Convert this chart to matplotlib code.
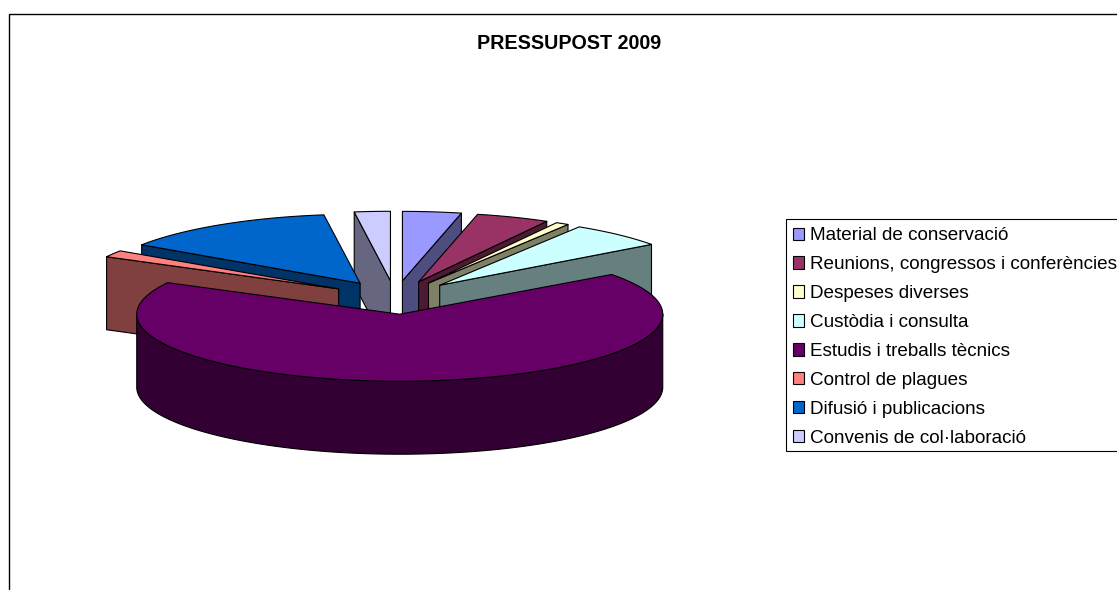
import numpy as np
import matplotlib
matplotlib.use("Agg")
import matplotlib.pyplot as plt
from matplotlib.colors import to_rgb
from matplotlib.patches import Polygon, Patch, Rectangle

plt.rcParams['font.family'] = ['Liberation Sans', 'DejaVu Sans']

TITLE = "PRESSUPOST 2009"
categories = [
    "Material de conservació",
    "Reunions, congressos i conferències",
    "Despeses diverses",
    "Custòdia i consulta",
    "Estudis i treballs tècnics",
    "Control de plagues",
    "Difusió i publicacions",
    "Convenis de col·laboració",
]
# percentages
shares = [3.6, 4.5, 0.8, 6.0, 67.9, 1.6, 13.4, 2.2]
colors = ["#9999FF", "#993366", "#FFFFCC", "#CCFFFF", "#660066", "#FF8080", "#0066CC", "#CCCCFF"]

# pie geometry in pixels
CX, CY = 395, 297.5
RX, RY = 263, 67
BACK_STRETCH = 2.5  # slices pushed to the back look a bit taller
DEPTH = 73
EXPLODE = 0.25
LW = 0.8


def top_point(angle, ox, oy, ry_back):
    a = np.radians(angle)
    c = np.cos(a)
    return ox + RX * np.sin(a), oy - (ry_back if c > 0 else RY) * c


def arc_points(start, end, ox, oy, ry_back):
    angles = np.linspace(start, end, max(2, int(end - start) * 2))
    return [top_point(t, ox, oy, ry_back) for t in angles]


def shifted(points):
    return [(x, y + DEPTH) for x, y in points]


def draw_slice(ax, start, end, color, z):
    mid = np.radians((start + end) / 2)
    ox = CX + EXPLODE * RX * np.sin(mid)
    oy = CY - EXPLODE * RY * np.cos(mid)
    ry_back = RY + BACK_STRETCH * max(0, np.cos(mid))
    wall = tuple(0.5 * c for c in to_rgb(color))
    style = dict(facecolor=wall, edgecolor="black", linewidth=LW, joinstyle="round", zorder=z)

    # side walls facing the viewer
    if end < 180:
        edge = [(ox, oy), top_point(end, ox, oy, ry_back)]
        ax.add_patch(Polygon(edge + shifted(edge)[::-1], **style))
    if start > 180:
        edge = [(ox, oy), top_point(start, ox, oy, ry_back)]
        ax.add_patch(Polygon(edge + shifted(edge)[::-1], **style))
    lo, hi = max(start, 90), min(end, 270)
    if lo < hi:
        rim = arc_points(lo, hi, ox, oy, ry_back)
        ax.add_patch(Polygon(rim + shifted(rim)[::-1], **style))

    top = [(ox, oy)] + arc_points(start, end, ox, oy, ry_back)
    ax.add_patch(Polygon(top, facecolor=color, edgecolor="black", linewidth=LW,
                         joinstyle="round", zorder=z + 0.5))


fig = plt.figure(figsize=(11.17, 5.90), dpi=100)
ax = fig.add_axes([0, 0, 1, 1])
ax.set_xlim(0, 1117)
ax.set_ylim(590, 0)
ax.axis("off")

# chart frame runs off the right and bottom of the picture
ax.add_patch(Rectangle((8.5, 13.5), 1300, 800, fill=False, edgecolor="black", linewidth=1.0, zorder=0))

ax.text(569.5, 43.5, TITLE, ha="center", va="center", fontsize=14.2, fontweight="bold")

edges = 360 * np.cumsum([0] + shares) / sum(shares)
slices = list(zip(edges[:-1], edges[1:], colors))
# back slices first
slices.sort(key=lambda s: -np.cos(np.radians((s[0] + s[1]) / 2)))
for i, (start, end, color) in enumerate(slices):
    draw_slice(ax, start, end, color, i + 1)

# legend box is drawn apart, matplotlib pads the bottom too much
ax.add_patch(Rectangle((785.5, 218.5), 400, 232, facecolor="white", edgecolor="black", linewidth=0.8, zorder=29))

handles = [Patch(facecolor=c, edgecolor="black", linewidth=0.8) for c in colors]
leg = ax.legend(handles, categories, loc="upper left", bbox_to_anchor=(784.2, 218.8),
                bbox_transform=ax.transData, fontsize=13.55, frameon=False,
                borderaxespad=0, borderpad=0.45,
                labelspacing=0.635, handlelength=0.62, handleheight=0.62, handletextpad=0.28)
leg.set_zorder(30)

fig.savefig("out.png", dpi=100)
